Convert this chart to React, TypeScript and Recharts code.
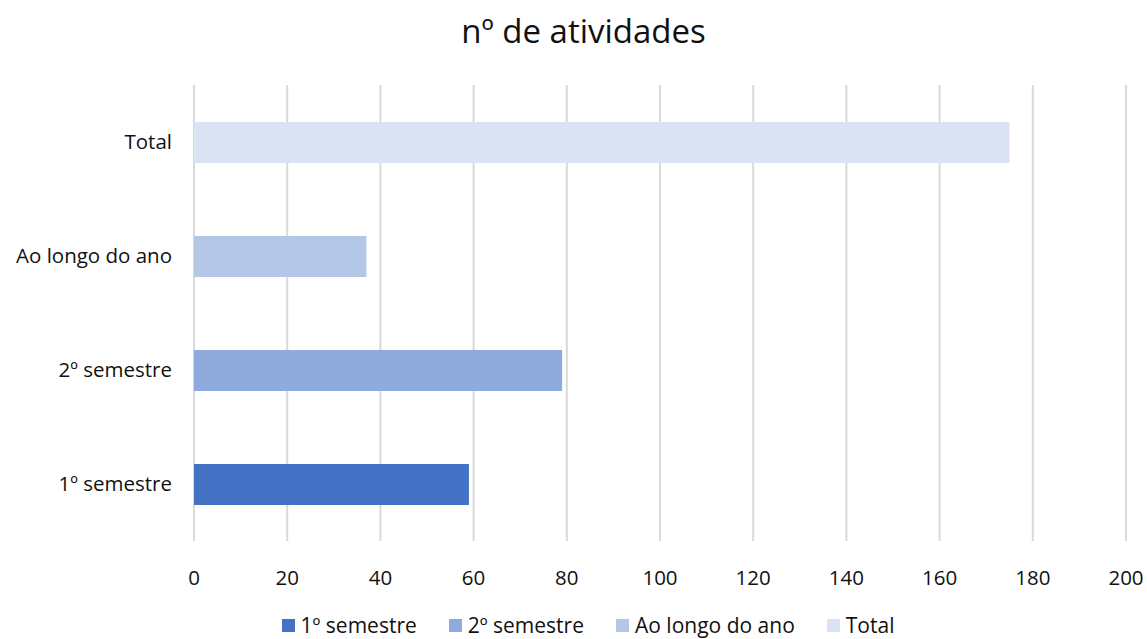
import { BarChart, Bar, XAxis, YAxis, CartesianGrid, Legend } from 'recharts'

const categories = ['1º semestre', '2º semestre', 'Ao longo do ano', 'Total']
const values = [59, 79, 37, 175]
const colors = ['#4472C4', '#8FAADC', '#B4C7E7', '#DAE3F3']
const xTicks = [0, 20, 40, 60, 80, 100, 120, 140, 160, 180, 200]

const FONT = "'Open Sans', Lato, sans-serif"

// one row per category, each series only has a value in its own row
const data = categories.map((name, i) => {
    const row: Record<string, string | number> = { name }
    row[name] = values[i]
    return row
})

function LegendContent(props: any) {
    const items = props.payload || []
    return (
        <div style={{ display: 'flex', justifyContent: 'center', fontFamily: FONT, fontSize: 21, color: '#111', paddingLeft: 82 }}>
            {items.map((item: any) => (
                <div key={item.value} style={{ display: 'flex', alignItems: 'center', marginRight: 32 }}>
                    <span style={{ display: 'inline-block', width: 13, height: 13, background: item.color, marginRight: 6 }} />
                    <span>{item.value}</span>
                </div>
            ))}
        </div>
    )
}

export default function App() {
    return (
        <div style={{ position: 'absolute', left: 0, top: 0, width: 1147, height: 639, background: '#fff' }}>
            <div style={{ position: 'absolute', top: 8, left: 0, width: 1147, paddingLeft: 20, boxSizing: 'border-box', textAlign: 'center', fontFamily: FONT, fontSize: 33, color: '#111' }}>
                nº de atividades
            </div>
            <BarChart
                width={1147}
                height={639}
                data={data}
                layout="vertical"
                barSize={41}
                margin={{ top: 85, right: 21, bottom: 0, left: 0 }}
            >
                <CartesianGrid horizontal={false} stroke="#d9d9d9" strokeWidth={2} />
                <XAxis
                    type="number"
                    domain={[0, 200]}
                    ticks={xTicks}
                    interval={0}
                    axisLine={false}
                    tickLine={false}
                    tickMargin={23}
                    height={70}
                    tick={{ fill: '#111', fontSize: 20.5, fontFamily: FONT }}
                />
                <YAxis
                    type="category"
                    dataKey="name"
                    reversed
                    width={194}
                    axisLine={false}
                    tickLine={false}
                    tickMargin={16}
                    tick={{ fill: '#111', fontSize: 20.5, fontFamily: FONT }}
                />
                <Legend verticalAlign="bottom" content={<LegendContent />} />
                {categories.map((name, i) => (
                    <Bar key={name} dataKey={name} stackId="a" fill={colors[i]} isAnimationActive={false} />
                ))}
            </BarChart>
        </div>
    )
}
